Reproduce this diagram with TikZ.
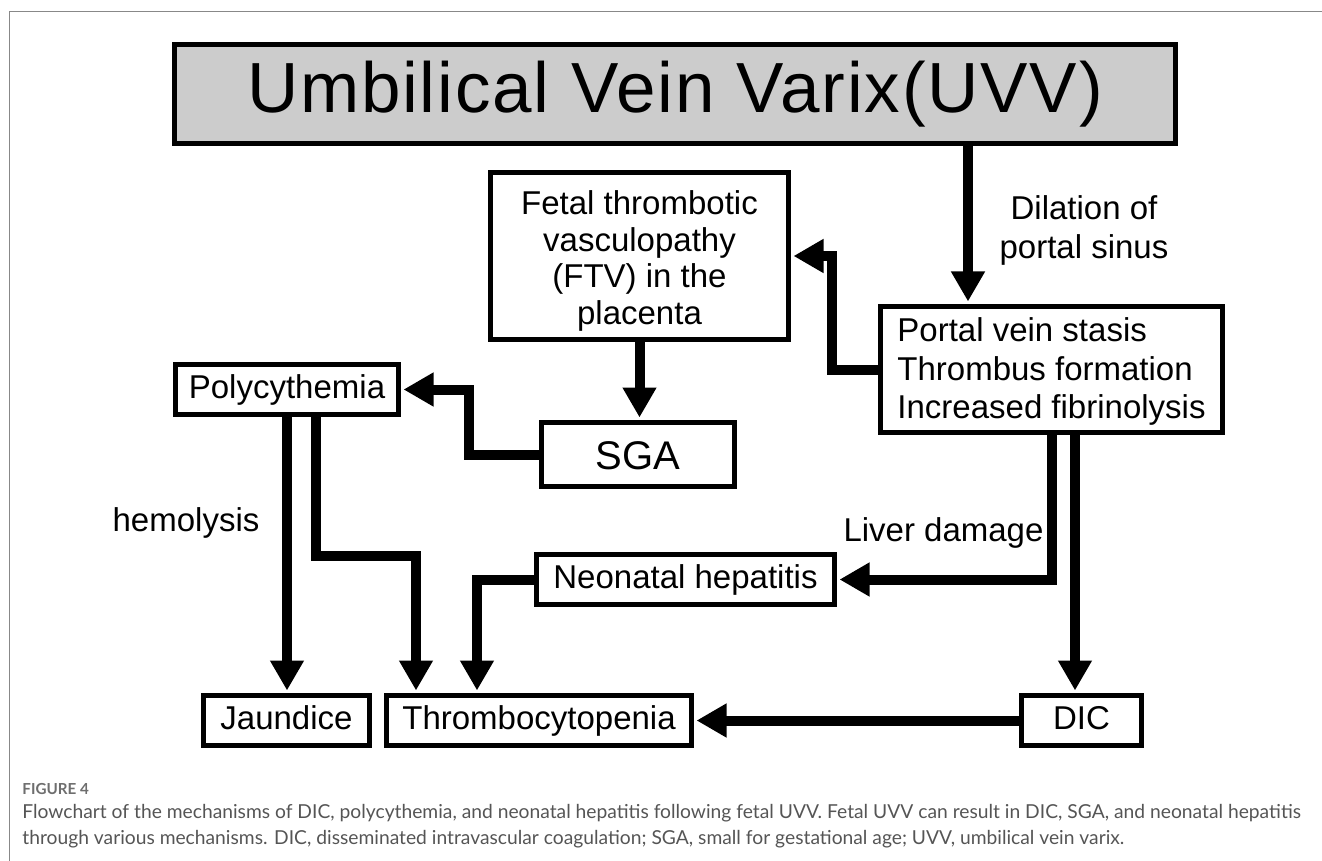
\documentclass[tikz,border=0pt]{standalone}
\usepackage{fontspec}
\setmainfont{Liberation Sans}
\newfontfamily\uvvfont[LetterSpace=2.6]{Liberation Sans}
\newfontfamily\capfont{Lato}
\usetikzlibrary{arrows.meta}
\definecolor{boxgray}{RGB}{204,204,204}
\definecolor{framegray}{RGB}{136,136,136}
\definecolor{capgray}{RGB}{85,85,85}
\definecolor{figgray}{RGB}{110,110,110}
\begin{document}
\begin{tikzpicture}[x=0.5pt,y=-0.5pt,
  box/.style={draw,line width=2.5pt,fill=white,inner sep=0pt,align=center,
    font=\fontsize{16.5}{18.5}\selectfont},
  oneline/.style={text height=12pt,text depth=3.5pt},
  arr/.style={line width=5pt,line join=miter,shorten >=1.25pt,
    -{Triangle[width=16pt,length=15pt]}},
  lbl/.style={inner sep=0pt,align=center,font=\fontsize{16.5}{19.5}\selectfont},
  captext/.style={inner sep=0pt,anchor=west,text=capgray,font=\capfont\fontsize{9.62}{11}\selectfont}]
\useasboundingbox (0,0) rectangle (1322,861);
\draw[framegray,line width=0.75pt] (9.3,861) -- (9.3,11.7) -- (1322,11.7);

% boxes
\node[box,fill=boxgray,minimum width=500.5pt,minimum height=49.5pt,
  font=\uvvfont\fontsize{35.5}{40}\selectfont] (uvv) at (675,94) {Umbilical Vein Varix(UVV)};
\node[box,minimum width=149pt,minimum height=83.5pt,
  font=\fontsize{16.5}{18.2}\selectfont] (ftv) at (639.5,256)
  {\rule{0pt}{17pt}Fetal thrombotic\\vasculopathy\\(FTV) in the\\placenta};
\node[box,minimum width=171pt,minimum height=63pt,align=left,
  font=\fontsize{16.5}{19.3}\selectfont] (portal) at (1051.5,369.5)
  {\rule{0pt}{14pt}Portal vein stasis\\Thrombus formation\\Increased fibrinolysis};
\node[box,oneline,minimum width=111.5pt,minimum height=25pt] (poly) at (287,389.5) {Polycythemia};
\node[box,minimum width=96.5pt,minimum height=32pt,font=\fontsize{20}{24}\selectfont,
  text height=14.5pt,text depth=0pt] (sga) at (638,454.5) {SGA};
\node[box,oneline,minimum width=149pt,minimum height=25pt] (neo) at (685.5,579.5) {Neonatal hepatitis};
\node[box,oneline,minimum width=83pt,minimum height=25pt] (jaun) at (286.5,720.5) {Jaundice};
\node[box,oneline,minimum width=152.5pt,minimum height=25pt] (thr) at (539,720.5) {Thrombocytopenia};
\node[box,oneline,minimum width=60pt,minimum height=25pt] (dic) at (1081.5,720.5) {DIC};

% labels
\node[lbl] (dil) at (1084,230.5) {Dilation of\\portal sinus};
\node[lbl,oneline] (hem) at (186,523) {hemolysis};
\node[lbl,oneline] (liv) at (943.5,533) {Liver damage};

% helper coordinates
\coordinate (x968) at (968,0);
\coordinate (x316) at (316,0);
\coordinate (e1) at (416,556);
\coordinate (x477) at (477,0);
\coordinate (x1075) at (1075,0);

% connectors
\draw[arr] (uvv.south -| x968) -- (portal.north -| x968);
\draw[arr] (portal.west) -- ++(-46,0) |- (ftv.east);
\draw[arr] (ftv.south) -- (ftv.south |- sga.north);
\draw[arr] (sga.west) -- ++(-70,0) |- (poly.east);
\draw[arr] (poly.south) -- (poly.south |- jaun.north);
\draw[arr] (poly.south -| x316) |- (e1) -- (e1 |- thr.north);
\draw[arr] (neo.west) -| (thr.north -| x477);
\draw[arr] (portal.south) |- (neo.east);
\draw[arr] (portal.south -| x1075) -- (dic.north -| x1075);
\draw[arr] (dic.west) -- (thr.east);

% caption
\node[captext,text=figgray,font=\capfont\bfseries\fontsize{7.6}{9}\selectfont] (fig) at (22,789) {FIGURE 4};
\node[captext] (cap1) at (22,813) {Flowchart of the mechanisms of DIC, polycythemia, and neonatal hepatitis following fetal UVV. Fetal UVV can result in DIC, SGA, and neonatal hepatitis};
\node[captext] (cap2) at (22,839) {through various mechanisms. DIC, disseminated intravascular coagulation; SGA, small for gestational age; UVV, umbilical vein varix.};
\end{tikzpicture}
\end{document}
